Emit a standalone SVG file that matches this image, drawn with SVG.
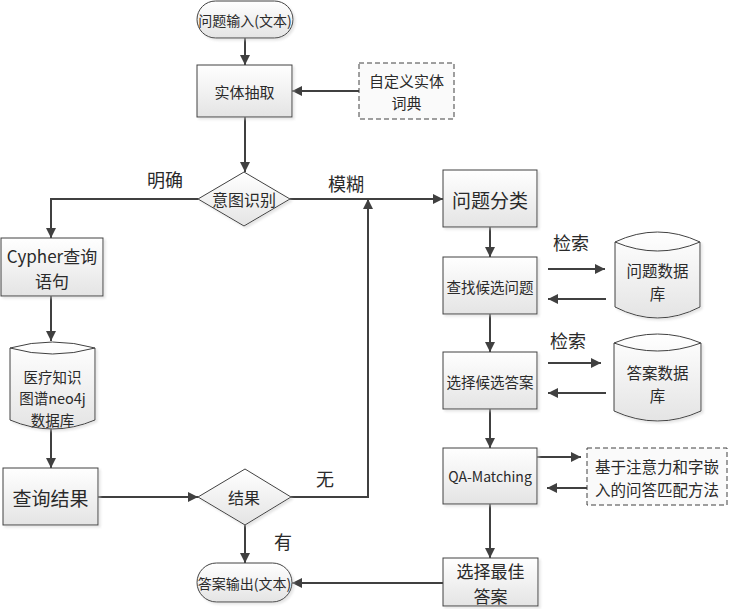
<svg xmlns="http://www.w3.org/2000/svg" width="730" height="609" viewBox="0 0 730 609">
<defs>
<linearGradient id="g" x1="0" y1="0" x2="0" y2="1">
<stop offset="0" stop-color="#ffffff"/>
<stop offset="1" stop-color="#e4e4e4"/>
</linearGradient>
<marker id="a" viewBox="0 0 10 10" refX="10" refY="5" markerWidth="10" markerHeight="10" markerUnits="userSpaceOnUse" orient="auto">
<path d="M0,0 L10,5 L0,10 Z" fill="#404040"/>
</marker>
<filter id="s" x="-10%" y="-10%" width="130%" height="130%">
<feOffset in="SourceAlpha" dx="2" dy="2" result="o"/>
<feGaussianBlur in="o" stdDeviation="1.2" result="b"/>
<feColorMatrix in="b" type="matrix" values="0 0 0 0 0.6  0 0 0 0 0.6  0 0 0 0 0.6  0 0 0 0.5 0" result="c"/>
<feMerge><feMergeNode in="c"/><feMergeNode in="SourceGraphic"/></feMerge>
</filter>
</defs>
<style>
.n{fill:url(#g);stroke:#404040;stroke-width:1;filter:url(#s)}
.d{fill:#fafafa;stroke:#404040;stroke-width:1;stroke-dasharray:5,3}
.c{fill:none;stroke:#404040;stroke-width:2}
text{font-family:"Noto Sans CJK SC","Noto Sans",sans-serif;fill:#2a2a2a;text-anchor:middle;dominant-baseline:central}
</style>
<rect width="730" height="609" fill="#ffffff"/>

<g id="connectors">
<path class="c" d="M245,38 L245,65" marker-end="url(#a)"/>
<path class="c" d="M359,91 L292,91" marker-end="url(#a)"/>
<path class="c" d="M245,117 L245,172" marker-end="url(#a)"/>
<path class="c" d="M198,199 L51,199 L51,238" marker-end="url(#a)"/>
<path class="c" d="M290,199 L443,199" marker-end="url(#a)"/>
<path class="c" d="M51,296 L51,341" marker-end="url(#a)"/>
<path class="c" d="M51,429 L51,468" marker-end="url(#a)"/>
<path class="c" d="M98,497 L198,497" marker-end="url(#a)"/>
<path class="c" d="M291,497 L368,497 L368,199" marker-end="url(#a)"/>
<path class="c" d="M245,525 L245,563" marker-end="url(#a)"/>
<path class="c" d="M443,583 L292,583" marker-end="url(#a)"/>
<path class="c" d="M490,227 L490,257" marker-end="url(#a)"/>
<path class="c" d="M490,314 L490,352" marker-end="url(#a)"/>
<path class="c" d="M490,409 L490,448" marker-end="url(#a)"/>
<path class="c" d="M490,504 L490,558" marker-end="url(#a)"/>
<path class="c" d="M548,269 L605,269" marker-end="url(#a)"/>
<path class="c" d="M606,299 L548,299" marker-end="url(#a)"/>
<path class="c" d="M548,363 L601,363" marker-end="url(#a)"/>
<path class="c" d="M606,393 L548,393" marker-end="url(#a)"/>
<path class="c" d="M537,457 L581,457" marker-end="url(#a)"/>
<path class="c" d="M587,488 L547,488" marker-end="url(#a)"/>
<text x="165" y="179" font-size="18">明确</text>
<text x="346" y="183" font-size="18">模糊</text>
<text x="325" y="478" font-size="18">无</text>
<text x="283" y="541" font-size="18">有</text>
<text x="571" y="242" font-size="18">检索</text>
<text x="568" y="340" font-size="18">检索</text>
</g>

<g id="start">
<rect class="n" x="197" y="1" width="96" height="37" rx="18.5"/>
<text x="245" y="19.5" font-size="14">问题输入(文本)</text>
</g>
<g id="entity">
<rect class="n" x="197" y="65" width="95" height="52"/>
<text x="244.5" y="91" font-size="15">实体抽取</text>
</g>
<g id="dict">
<rect class="d" x="359" y="63" width="95" height="56"/>
<text x="406.5" y="79.5" font-size="15"><tspan x="406.5" y="79.5">自定义实体</tspan><tspan x="406.5" y="102">词典</tspan></text>
</g>
<g id="intent">
<polygon class="n" points="244,172 290,199 244,226 198,199"/>
<text x="244" y="199" font-size="16">意图识别</text>
</g>
<g id="cypher">
<rect class="n" x="1" y="238" width="102" height="58"/>
<text x="52" y="254.5" font-size="17"><tspan x="52" y="254.5">Cypher查询</tspan><tspan x="52" y="279.5">语句</tspan></text>
</g>
<g id="neo4j">
<path class="n" d="M10,348 Q52.5,336 95,348 L95,420 Q52.5,438 10,420 Z"/>
<path fill="none" stroke="#404040" stroke-width="1" d="M10,348 Q52.5,360 95,348"/>
<text x="52.5" y="375.5" font-size="14.5"><tspan x="52.5" y="375.5">医疗知识</tspan><tspan x="52.5" y="397">图谱neo4j</tspan><tspan x="52.5" y="418.5">数据库</tspan></text>
</g>
<g id="queryresult">
<rect class="n" x="3" y="468" width="95" height="57"/>
<text x="50.5" y="497" font-size="19">查询结果</text>
</g>
<g id="result">
<polygon class="n" points="245,469 291,497 245,525 198,497"/>
<text x="244" y="497" font-size="16">结果</text>
</g>
<g id="end">
<rect class="n" x="197" y="563" width="95" height="39" rx="19.5"/>
<text x="244.5" y="583" font-size="14">答案输出(文本)</text>
</g>
<g id="classify">
<rect class="n" x="443" y="170" width="94" height="57"/>
<text x="490" y="199" font-size="19">问题分类</text>
</g>
<g id="findq">
<rect class="n" x="443" y="257" width="94" height="57"/>
<text x="490" y="286" font-size="14.5">查找候选问题</text>
</g>
<g id="qdb">
<path class="n" d="M615,242 Q657.5,222 700,242 L700,307 Q657.5,329 615,307 Z"/>
<path fill="none" stroke="#404040" stroke-width="1" d="M615,242 Q657.5,260 700,242"/>
<text x="657.5" y="269.5" font-size="15.5"><tspan x="657.5" y="269.5">问题数据</tspan><tspan x="657.5" y="292.5">库</tspan></text>
</g>
<g id="choosea">
<rect class="n" x="443" y="352" width="94" height="57"/>
<text x="490" y="381" font-size="14.5">选择候选答案</text>
</g>
<g id="adb">
<path class="n" d="M614,343 Q657.5,325 701,343 L701,411 Q657.5,431 614,411 Z"/>
<path fill="none" stroke="#404040" stroke-width="1" d="M614,343 Q657.5,359 701,343"/>
<text x="657.5" y="371.5" font-size="15.5"><tspan x="657.5" y="371.5">答案数据</tspan><tspan x="657.5" y="394.5">库</tspan></text>
</g>
<g id="qamatch">
<rect class="n" x="443" y="448" width="94" height="56"/>
<text x="490" y="476" font-size="14">QA-Matching</text>
</g>
<g id="method">
<rect class="d" x="587" y="448" width="140" height="57"/>
<text x="657" y="465.5" font-size="15.5"><tspan x="657" y="465.5">基于注意力和字嵌</tspan><tspan x="657" y="488.5">入的问答匹配方法</tspan></text>
</g>
<g id="best">
<rect class="n" x="443" y="558" width="95" height="48"/>
<text x="490.5" y="569.5" font-size="17"><tspan x="490.5" y="569.5">选择最佳</tspan><tspan x="490.5" y="594.5">答案</tspan></text>
</g>
</svg>
